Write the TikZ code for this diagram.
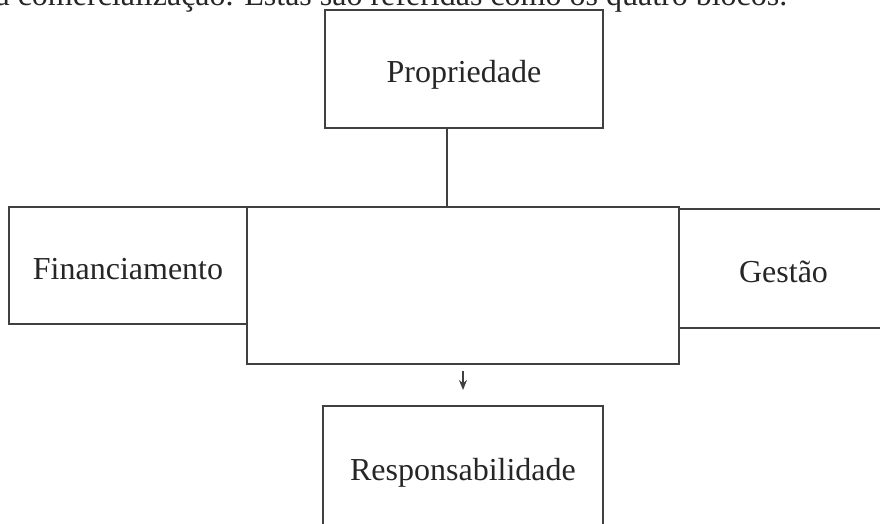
\documentclass[tikz,border=0pt]{standalone}
\usepackage{fontspec}
\setmainfont{Liberation Serif}
\usetikzlibrary{arrows.meta}

\begin{document}
\begin{tikzpicture}[x=0.01cm, y=-0.01cm,
    bloco/.style={draw=black!75, line width=0.55pt, fill=white, inner sep=0pt, outer sep=0pt,
                  text=black!85, font=\fontsize{9.1}{11}\selectfont, text height=0.78em, text depth=0pt}]
    \useasboundingbox (0,0) rectangle (880,523);

    % Frase cortada no topo
    \node[anchor=base east, inner sep=0pt, text=black!85, font=\fontsize{9.1}{11}\selectfont]
        (frase) at (788,5) {a comercialização. Estas são referidas como os quatro blocos.};

    % Blocos laterais (por baixo do central)
    \node[bloco, minimum width=2.38cm, minimum height=1.17cm] (fin) at (128,265.5) {Financiamento};
    \node[bloco, minimum width=2.09cm, minimum height=1.19cm] (gest) at (783.5,268.5) {Gestão};

    % Bloco central
    \node[bloco, minimum width=4.32cm, minimum height=1.57cm] (core) at (463,285.5) {};

    % Propriedade e Responsabilidade
    \node[bloco, minimum width=2.78cm, minimum height=1.18cm] (prop) at (464,69) {Propriedade};
    \node[bloco, minimum width=2.80cm, minimum height=1.22cm] (resp) at (463,467) {Responsabilidade};

    % Ligacoes
    \draw[draw=black!75, line width=0.55pt] ([xshift=-0.17cm]prop.south) -- ([xshift=-0.17cm]prop.south |- core.north);
    \draw[-{Stealth[length=0.1cm, width=0.08cm]}, draw=black!75, line width=0.55pt,
          shorten <=0.07cm, shorten >=0.16cm] (core.south) -- (resp.north);
\end{tikzpicture}
\end{document}
